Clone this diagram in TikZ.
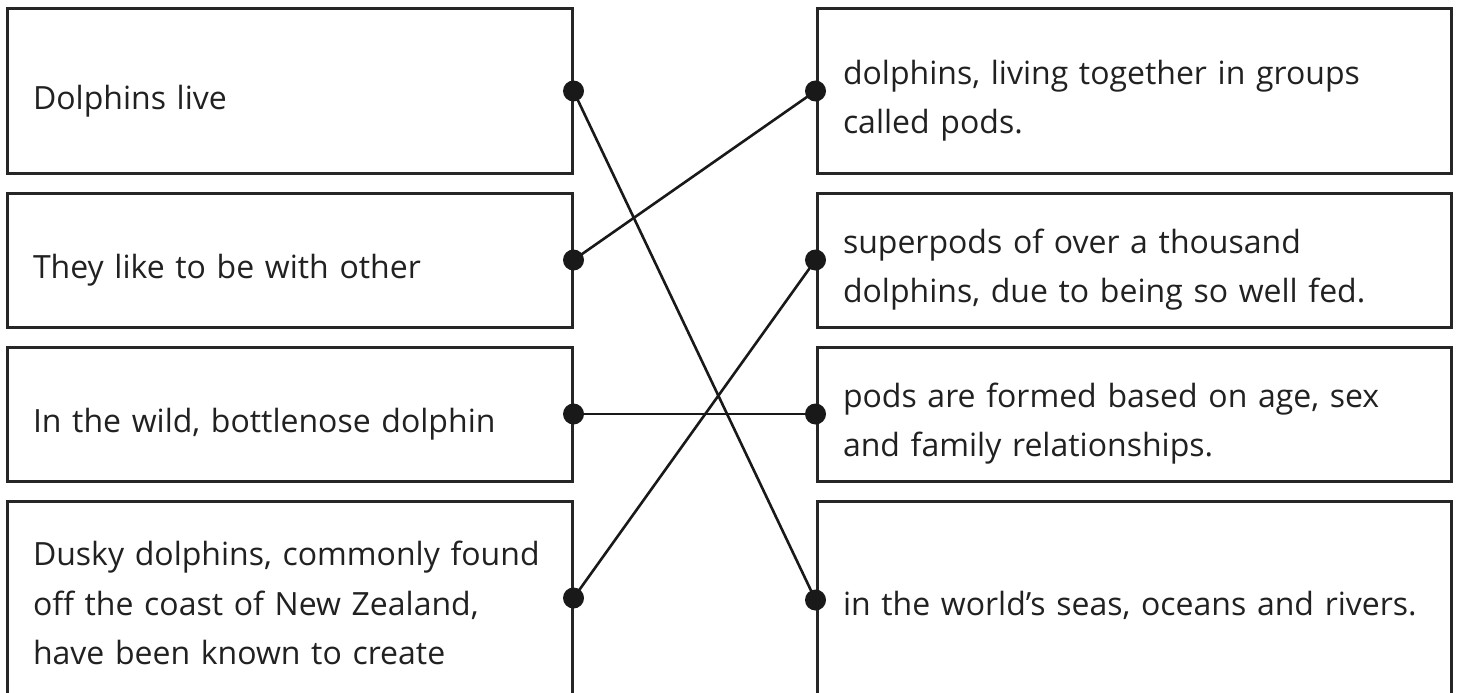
\documentclass[tikz,border=0pt]{standalone}
\usepackage{fontspec}
\setmainfont{Open Sans}
\usepackage{tikz}
\usetikzlibrary{positioning}
\colorlet{colorText}{black!87}
\tikzset{
  card/.style={draw=black!85, line width=3pt, text=colorText, align=left,
    inner xsep=26pt, inner ysep=0pt, anchor=center,
    font=\fontsize{32}{49.5}\selectfont,
    execute at begin node={\rule{0pt}{44pt}}},
  leftcard/.style={card, minimum width=565pt, text width=513pt},
  rightcard/.style={card, minimum width=634pt, text width=582pt},
  lastcard/.style={minimum height=220pt, execute at end node={\rule[-36pt]{0pt}{36pt}}},
  dot/.style={circle, fill=black!90, inner sep=0pt, minimum size=21pt},
  link/.style={line width=2.6pt, black!90}
}

\begin{document}
\begin{tikzpicture}[x=1pt, y=-1pt, node distance=17pt]
\clip (0,0) rectangle (1459,693);
\fill[white] (0,0) rectangle (1459,693);
% left column
\node[leftcard, minimum height=164pt] (l1) at (289.5,91) {Dolphins live};
\node[leftcard, minimum height=134pt, below=of l1] (l2) {They like to be with other};
\node[leftcard, minimum height=134pt, below=of l2] (l3) {In the wild, bottlenose dolphin};
\node[leftcard, lastcard, below=of l3] (l4) {Dusky dolphins, commonly found\\off the coast of New Zealand,\\have been known to create};
% right column
\node[rightcard, minimum height=164pt] (r1) at (1134,91) {dolphins, living together in groups\\called pods.};
\node[rightcard, minimum height=134pt, below=of r1] (r2) {superpods of over a thousand\\dolphins, due to being so well fed.};
\node[rightcard, minimum height=134pt, below=of r2] (r3) {pods are formed based on age, sex\\and family relationships.};
\node[rightcard, lastcard, below=of r3] (r4) {in the world’s seas, oceans and rivers.};
% dots on the last cards
\coordinate (l4dot) at ([yshift=13pt]l4.east);
\coordinate (r4dot) at ([yshift=11pt]r4.west);
% matching lines
\draw[link] (l1.east) -- (r4dot);
\draw[link] (l2.east) -- (r1.west);
\draw[link] (l3.east) -- (r3.west);
\draw[link] (l4dot) -- (r2.west);
\foreach \n in {l1,l2,l3} \node[dot] at (\n.east) {};
\foreach \n in {r1,r2,r3} \node[dot] at (\n.west) {};
\node[dot] at (l4dot) {};
\node[dot] at (r4dot) {};
\end{tikzpicture}
\end{document}
